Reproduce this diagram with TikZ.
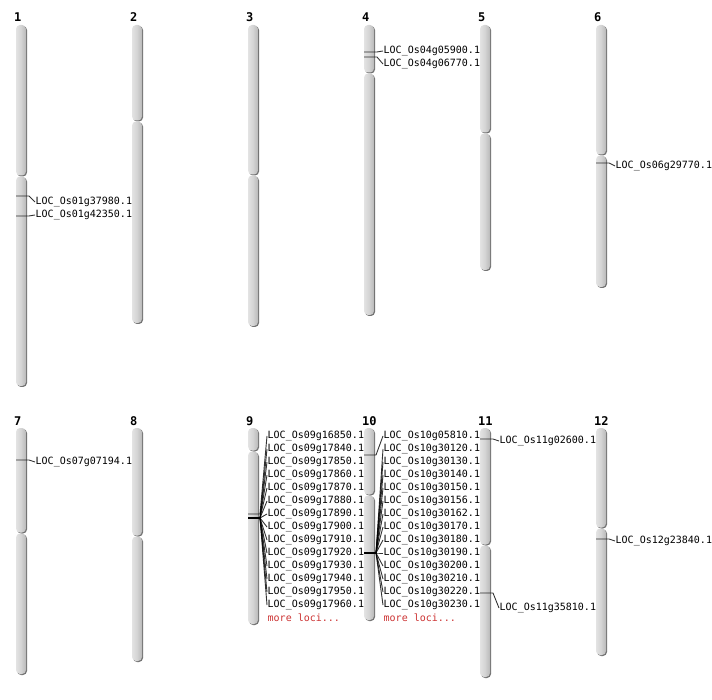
\documentclass[tikz,border=0pt]{standalone}
\usepackage{fontspec}
\setmainfont{DejaVu Sans}
\setmonofont{DejaVu Sans Mono}
\usetikzlibrary{positioning}
\definecolor{moreRed}{HTML}{CC3333}
\tikzset{
 arm/.style={rounded corners=4pt,left color=gray!22,right color=gray!55,middle color=gray!34},
 armshadow/.style={rounded corners=4pt,fill=black!55},
 chrname/.style={font=\ttfamily\bfseries\fontsize{12}{14}\selectfont,anchor=base west,inner sep=0pt},
 locus/.style={font=\ttfamily\fontsize{10}{12}\selectfont,anchor=west,inner sep=0.5pt},
 moreloci/.style={locus,text=moreRed},
 marker/.style={draw=black,draw opacity=0.8,line width=0.9pt}
}

\begin{document}
\begin{tikzpicture}[x=1pt,y=-1pt]
\useasboundingbox (0,0) rectangle (712,700);
\foreach \n/\x/\t/\c/\b in {1/16/25/176/386,2/132/25/121/323,3/248/25/175/326,
  4/364/25/73/315,5/480/25/133/270,6/596/25/155/287,
  7/16/428/533/674,8/132/428/536/661,9/248/428/451/624,
  10/364/428/495/620,11/480/428/545/677,12/596/428/528/655}{
 \fill[armshadow] (\x+1,\t+1) rectangle (\x+11,\c+0.5);
 \fill[armshadow] (\x+1,\c+1.5) rectangle (\x+11,\b+1);
 \path[arm] (\x,\t) rectangle (\x+10,\c-0.5);
 \path[arm] (\x,\c+0.5) rectangle (\x+10,\b);
 \node[chrname] (n\n) at (\x-2,\t-3) {\n};
}
\coordinate (m1a) at (16,196);
\coordinate (m1b) at (16,216);
\node[locus] (l1a) at (35,202) {LOC\_Os01g37980.1};
\node[locus] (l1b) at (35,215) {LOC\_Os01g42350.1};
\draw[marker] (m1a) -- ++(13,0) -- (l1a.west);
\draw[marker] (m1b) -- ++(13,0) -- (l1b.west);
\coordinate (m4a) at (364,52);
\coordinate (m4b) at (364,57);
\node[locus] (l4a) at (383,51) {LOC\_Os04g05900.1};
\node[locus] (l4b) at (383,64) {LOC\_Os04g06770.1};
\draw[marker] (m4a) -- ++(13,0) -- (l4a.west);
\draw[marker] (m4b) -- ++(13,0) -- (l4b.west);
\coordinate (m6a) at (596,163);
\node[locus] (l6a) at (615,166) {LOC\_Os06g29770.1};
\draw[marker] (m6a) -- ++(13,0) -- (l6a.west);
\coordinate (m7a) at (16,460);
\node[locus] (l7a) at (35,462) {LOC\_Os07g07194.1};
\draw[marker] (m7a) -- ++(13,0) -- (l7a.west);
\coordinate (m9a) at (248,514);
\coordinate (m9b) at (248,518);
\foreach \id [count=\i from 0] in {16850,17840,17850,17860,17870,17880,17890,
  17900,17910,17920,17930,17940,17950,17960}
 \node[locus] (l9-\i) at (267,436+13*\i) {LOC\_Os09g\id.1};
\node[moreloci] (l9-more) at (267,618) {more loci...};
\draw[marker] (m9a) -- ++(12,0) -- (l9-0.west);
\foreach \i in {1,...,13}
 \draw[marker] (m9b) -- ++(12,0) -- (l9-\i.west);
\coordinate (m10a) at (364,455);
\coordinate (m10b) at (364,553);
\foreach \id [count=\i from 0] in {05810,30120,30130,30140,30150,30156,30162,
  30170,30180,30190,30200,30210,30220,30230}
 \node[locus] (l10-\i) at (383,436+13*\i) {LOC\_Os10g\id.1};
\node[moreloci] (l10-more) at (383,618) {more loci...};
\draw[marker] (m10a) -- ++(12,0) -- (l10-0.west);
\foreach \i in {1,...,13}
 \draw[marker] (m10b) -- ++(12,0) -- (l10-\i.west);
\coordinate (m11a) at (480,439);
\coordinate (m11b) at (480,593);
\node[locus] (l11a) at (499,441) {LOC\_Os11g02600.1};
\node[locus] (l11b) at (499,608) {LOC\_Os11g35810.1};
\draw[marker] (m11a) -- ++(13,0) -- (l11a.west);
\draw[marker] (m11b) -- ++(13,0) -- (l11b.west);
\coordinate (m12a) at (596,539);
\node[locus] (l12a) at (615,541) {LOC\_Os12g23840.1};
\draw[marker] (m12a) -- ++(13,0) -- (l12a.west);
\end{tikzpicture}
\end{document}
